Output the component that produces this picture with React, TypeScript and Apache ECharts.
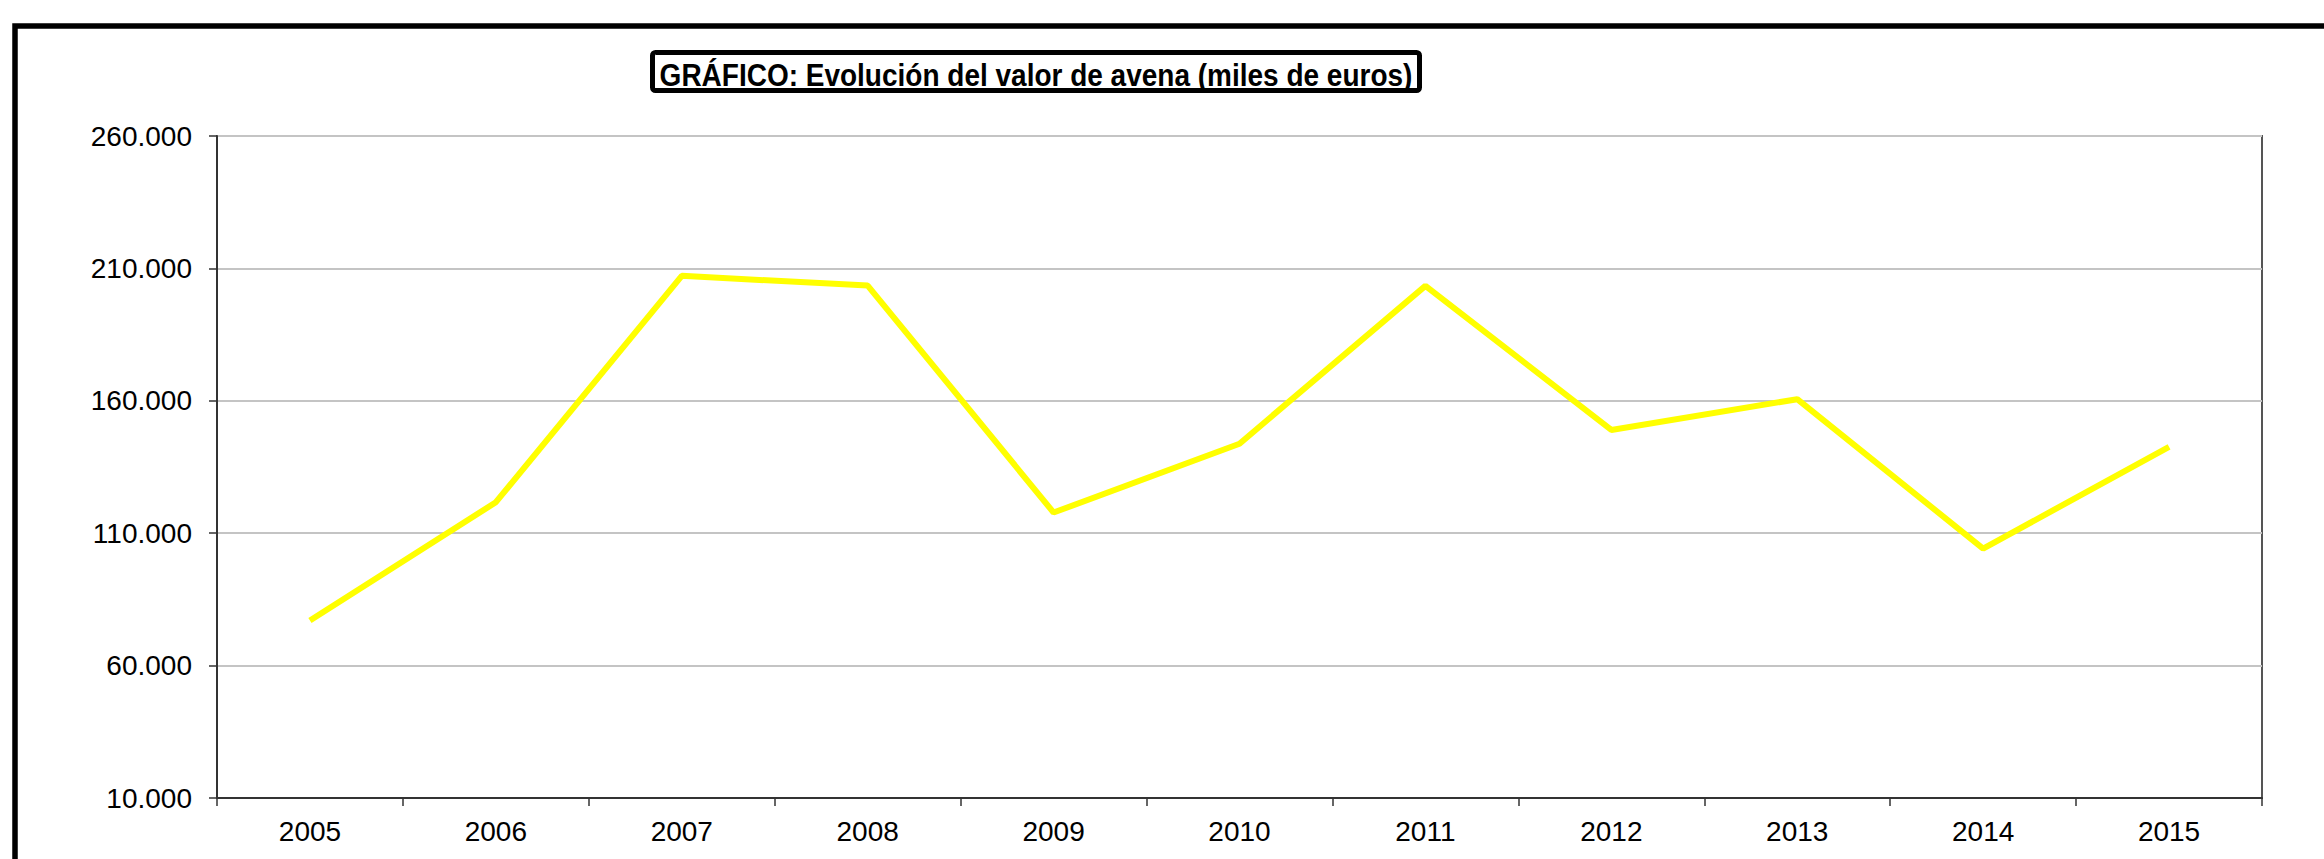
import React, { useEffect, useRef } from "react";
import * as echarts from "echarts";

const TITLE = "GRÁFICO: Evolución del valor de avena (miles de euros)";
const YEARS = ["2005", "2006", "2007", "2008", "2009", "2010", "2011", "2012", "2013", "2014", "2015"];
const VALUES = [77000, 121700, 207200, 203500, 117800, 143800, 203400, 149000, 160600, 104200, 142600];
const Y_MIN = 10000;
const Y_MAX = 260000;
const Y_STEP = 50000;

const FONT = "'Liberation Sans', Arial, Helvetica, sans-serif";

function fmt(v: number): string {
  const s = Math.round(v).toString();
  return s.replace(/\B(?=(\d{3})+(?!\d))/g, ".");
}

export default function App() {
  const ref = useRef<HTMLDivElement>(null);
  useEffect(() => {
    if (!ref.current) return;
    const chart = echarts.init(ref.current, undefined, { renderer: "svg" });
    chart.setOption({
      animation: false,
      backgroundColor: "#ffffff",
      textStyle: { fontFamily: FONT },
      grid: {
        left: 217,
        right: 62,
        top: 136,
        bottom: 61,
        show: true,
        borderColor: "#555555",
        borderWidth: 2,
        backgroundColor: "transparent",
      },
      xAxis: {
        type: "category",
        data: YEARS,
        boundaryGap: true,
        axisLine: { show: true, lineStyle: { color: "#333333", width: 2 } },
        axisTick: { show: true, length: 8, lineStyle: { color: "#333333", width: 1.5 } },
        axisLabel: { color: "#000000", fontSize: 28, fontFamily: FONT, margin: 19 },
        splitLine: { show: false },
      },
      yAxis: {
        type: "value",
        min: Y_MIN,
        max: Y_MAX,
        interval: Y_STEP,
        axisLine: { show: true, lineStyle: { color: "#333333", width: 2 } },
        axisTick: { show: true, length: 8, lineStyle: { color: "#333333", width: 1.5 } },
        axisLabel: { color: "#000000", fontSize: 28, fontFamily: FONT, margin: 25, formatter: (v: number) => fmt(v) },
        splitLine: { show: true, lineStyle: { color: "#c4c4c4", width: 2 } },
      },
      series: [
        {
          type: "line",
          data: VALUES,
          showSymbol: false,
          symbol: "none",
          lineStyle: { color: "#ffff00", width: 6 },
          itemStyle: { color: "#ffff00" },
        },
      ],
      graphic: [
        {
          type: "rect",
          silent: true,
          shape: { x: 15, y: 26, width: 3000, height: 2000 },
          style: { fill: "none", stroke: "#000000", lineWidth: 5.5 },
          z: 100,
        },
        {
          type: "rect",
          silent: true,
          shape: { x: 652.5, y: 52.5, width: 767, height: 38, r: 3 },
          style: { fill: "#ffffff", stroke: "#000000", lineWidth: 5 },
          z: 100,
        },
        {
          type: "text",
          silent: true,
          x: 1036,
          y: 75,
          scaleY: 1.1,
          z: 101,
          style: {
            text: TITLE,
            fill: "#000000",
            font: "bold 28px " + FONT,
            textAlign: "center",
            textVerticalAlign: "middle",
          },
        },
      ],
    });
    return () => chart.dispose();
  }, []);
  return (
    <div
      ref={ref}
      style={{ position: "absolute", left: 0, top: 0, width: 2324, height: 859 }}
    />
  );
}
